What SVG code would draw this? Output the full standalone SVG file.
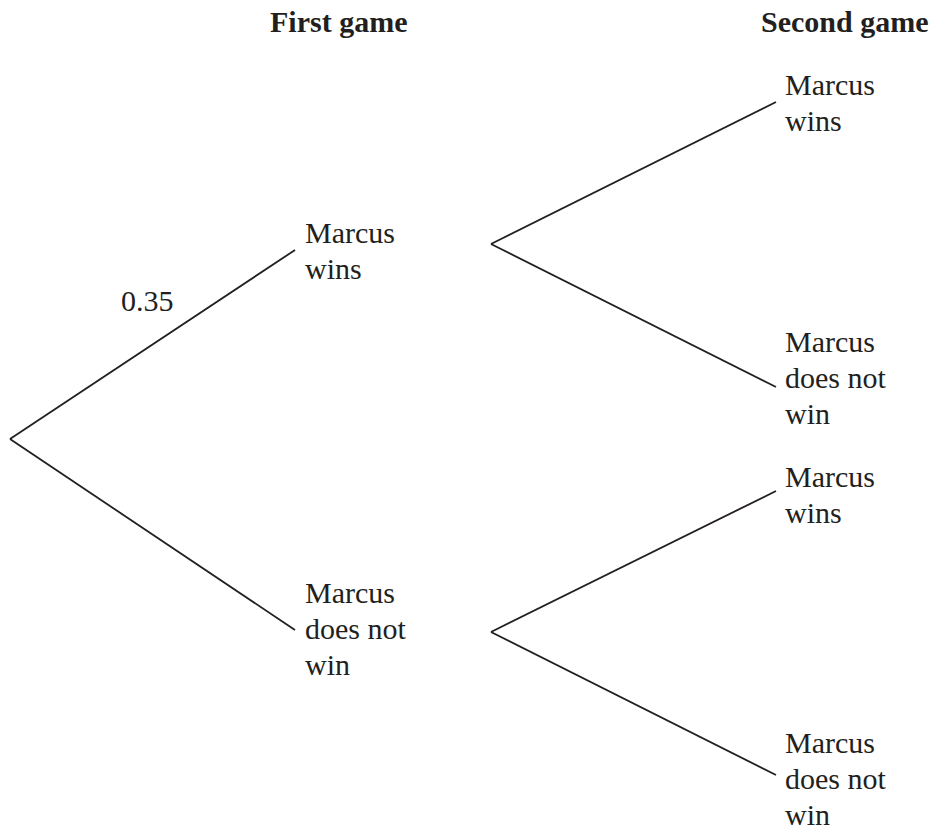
<svg xmlns="http://www.w3.org/2000/svg" width="946" height="835" viewBox="0 0 946 835">
<style>
text{font-family:"Liberation Serif","Times New Roman",serif;font-size:30px;fill:#231f20}
.h{font-weight:bold}
.c line{stroke:#231f20;stroke-width:1.8;fill:none}
</style>
<rect width="946" height="835" fill="#fff"/>
<g id="headers">
<text class="h" x="270" y="32">First game</text>
<text class="h" x="761" y="32">Second game</text>
</g>
<g class="c" id="connectors">
<line x1="10" y1="439" x2="295" y2="250"/>
<line x1="10" y1="439" x2="295" y2="630"/>
<line x1="491" y1="244" x2="776" y2="102"/>
<line x1="491" y1="244" x2="776" y2="387"/>
<line x1="491" y1="632" x2="776" y2="491"/>
<line x1="491" y1="632" x2="776" y2="775"/>
</g>
<g id="prob"><text x="121" y="311">0.35</text></g>
<g id="n1"><text x="305" y="243">Marcus</text><text x="305" y="279">wins</text></g>
<g id="n2"><text x="305" y="603">Marcus</text><text x="305" y="639">does not</text><text x="305" y="675">win</text></g>
<g id="n3"><text x="785" y="95">Marcus</text><text x="785" y="131">wins</text></g>
<g id="n4"><text x="785" y="352">Marcus</text><text x="785" y="388">does not</text><text x="785" y="424">win</text></g>
<g id="n5"><text x="785" y="487">Marcus</text><text x="785" y="523">wins</text></g>
<g id="n6"><text x="785" y="753">Marcus</text><text x="785" y="789">does not</text><text x="785" y="825">win</text></g>
</svg>
